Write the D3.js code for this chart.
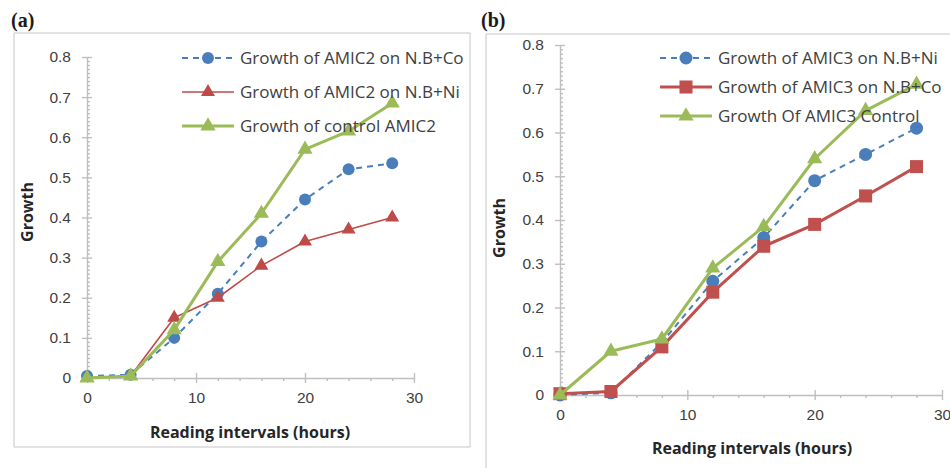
<!DOCTYPE html>
<html>
<head>
<meta charset="utf-8">
<script src="https://cdn.jsdelivr.net/npm/d3@7"></script>
<style>
  body { margin: 0; background: #fff; }
  svg { display: block; font-family: "Open Sans", "Noto Sans", sans-serif; }
  .axis path, .axis line { stroke: #bfbfbf; stroke-width: 1.4; }
  .axis text { fill: #404040; font-size: 15.5px; }
</style>
</head>
<body>
<svg id="chart" width="950" height="468"></svg>
<script>
// reading times (hours)
var hours = [0, 4, 8, 12, 16, 20, 24, 28];

// panel (a) AMIC2
var aCo = [0.005, 0.008, 0.1, 0.21, 0.34, 0.445, 0.52, 0.535];
var aNi = [0, 0.005, 0.15, 0.2, 0.28, 0.34, 0.37, 0.4];
var aControl = [0, 0.005, 0.12, 0.29, 0.41, 0.57, 0.615, 0.685];
var aLabels = ["Growth of AMIC2 on N.B+Co", "Growth of AMIC2 on N.B+Ni", "Growth of control AMIC2"];

// panel (b) AMIC3
var bNi = [0, 0.005, 0.12, 0.26, 0.36, 0.49, 0.55, 0.61];
var bCo = [0.003, 0.008, 0.11, 0.235, 0.34, 0.39, 0.455, 0.522];
var bControl = [0, 0.1, 0.128, 0.29, 0.385, 0.54, 0.65, 0.71];
var bLabels = ["Growth of AMIC3 on N.B+Ni", "Growth of AMIC3 on N.B+Co", "Growth Of AMIC3 Control"];

var xTicks = [0, 10, 20, 30];
var yTicks = [0, 0.1, 0.2, 0.3, 0.4, 0.5, 0.6, 0.7, 0.8];

var blue = "#4a7ebb", darkRed = "#be4b48", red = "#c0504d", green = "#9bbb59";

var svg = d3.select("#chart");

var panels = [
  {
    tag: "(a)", tagX: 11, frame: { x1: 14, y1: 33, x2: 470, y2: 447, right: true, bottom: true },
    x: [87, 414], y: [378, 57], titleX: 250, titleY: 438, yTitleX: 33, yTitleY: 212,
    legend: { x: 182, ys: [58, 92, 126] },
    series: [
      { name: aLabels[0], values: aCo, color: blue, width: 2, dash: "6,5", marker: "circle", size: 6 },
      { name: aLabels[1], values: aNi, color: darkRed, width: 1.6, dash: null, marker: "triangle", size: 85 },
      { name: aLabels[2], values: aControl, color: green, width: 3, dash: null, marker: "triangle", size: 100 },
    ],
  },
  {
    tag: "(b)", tagX: 481, frame: { x1: 486, y1: 34, x2: 960, y2: 480, right: false, bottom: false },
    x: [560, 942], y: [395, 45], titleX: 752, titleY: 454, yTitleX: 505, yTitleY: 228,
    legend: { x: 660, ys: [58, 87, 116] },
    series: [
      { name: bLabels[0], values: bNi, color: blue, width: 2, dash: "6,5", marker: "circle", size: 6.5 },
      { name: bLabels[1], values: bCo, color: red, width: 3, dash: null, marker: "square", size: 170 },
      { name: bLabels[2], values: bControl, color: green, width: 3, dash: null, marker: "triangle", size: 100 },
    ],
  },
];

var fmtY = (d) => (d === 0 ? "0" : d3.format(".1f")(d));

drawMarker = (g, s, cx, cy) => {
  if (s.marker == "circle") {
    g.append("circle").attr("cx", cx).attr("cy", cy).attr("r", s.size).attr("fill", s.color);
  } else {
    var type = s.marker == "square" ? d3.symbolSquare : d3.symbolTriangle;
    g.append("path")
      .attr("d", d3.symbol().type(type).size(s.size)())
      .attr("transform", `translate(${cx},${cy})`)
      .attr("fill", s.color);
  }
};

panels.forEach((p) => {
  var g = svg.append("g");

  // frame
  var f = p.frame;
  var frame = g.append("g").attr("stroke", "#d9d9d9").attr("stroke-width", 1.5);
  frame.append("line").attr("x1", f.x1).attr("x2", f.x2).attr("y1", f.y1).attr("y2", f.y1);
  frame.append("line").attr("x1", f.x1).attr("x2", f.x1).attr("y1", f.y1).attr("y2", f.y2);
  if (f.right) frame.append("line").attr("x1", f.x2).attr("x2", f.x2).attr("y1", f.y1).attr("y2", f.y2);
  if (f.bottom) frame.append("line").attr("x1", f.x1).attr("x2", f.x2).attr("y1", f.y2).attr("y2", f.y2);

  g.append("text")
    .attr("x", p.tagX).attr("y", 27)
    .style("font-family", "'Liberation Serif', serif")
    .style("font-weight", "bold").style("font-size", "20px")
    .attr("fill", "#1a1a1a")
    .text(p.tag);

  var x = d3.scaleLinear().domain([0, 30]).range(p.x);
  var y = d3.scaleLinear().domain([0, 0.8]).range(p.y);

  // y axis: minor and major ticks
  var minorY = d3.range(1, 80).map((d) => d / 100).filter((d) => Math.round(d * 100) % 10 != 0);
  g.append("g").attr("class", "axis").attr("transform", `translate(${p.x[0]},0)`)
    .call(d3.axisRight(y).tickValues(minorY).tickSize(3).tickFormat(""))
    .call((a) => a.select(".domain").remove());
  g.append("g").attr("class", "axis").attr("transform", `translate(${p.x[0]},0)`)
    .call(d3.axisRight(y).tickValues(yTicks).tickSize(5).tickFormat(""))
    .call((a) => a.select(".domain").remove());
  g.append("g").attr("class", "axis").attr("transform", `translate(${p.x[0]},0)`)
    .call(d3.axisLeft(y).tickValues(yTicks).tickSize(5).tickSizeOuter(0).tickPadding(11).tickFormat(fmtY));

  // x axis
  var minorX = d3.range(2, 30, 2).filter((d) => d % 10 != 0);
  g.append("g").attr("class", "axis").attr("transform", `translate(0,${p.y[0]})`)
    .call(d3.axisBottom(x).tickValues(minorX).tickSize(3).tickFormat(""))
    .call((a) => a.select(".domain").remove());
  g.append("g").attr("class", "axis").attr("transform", `translate(0,${p.y[0]})`)
    .call(d3.axisTop(x).tickValues(xTicks).tickSize(5).tickFormat(""))
    .call((a) => a.select(".domain").remove());
  g.append("g").attr("class", "axis").attr("transform", `translate(0,${p.y[0]})`)
    .call(d3.axisBottom(x).tickValues(xTicks).tickSize(5).tickSizeOuter(0).tickPadding(9));

  // axis titles
  g.append("text")
    .attr("x", p.titleX).attr("y", p.titleY)
    .attr("text-anchor", "middle")
    .style("font-weight", "bold").style("font-size", "16px")
    .attr("fill", "#262626")
    .text("Reading intervals (hours)");
  g.append("text")
    .attr("transform", `translate(${p.yTitleX},${p.yTitleY}) rotate(-90)`)
    .attr("text-anchor", "middle")
    .style("font-weight", "bold").style("font-size", "16px")
    .attr("fill", "#262626")
    .text("Growth");

  // series
  var line = d3.line().x((d) => x(d[0])).y((d) => y(d[1]));
  p.series.forEach((s) => {
    var pts = hours.map((h, i) => [h, s.values[i]]);
    g.append("path")
      .attr("d", line(pts))
      .attr("fill", "none")
      .attr("stroke", s.color)
      .attr("stroke-width", s.width)
      .attr("stroke-dasharray", s.dash)
      .attr("stroke-linejoin", "round");
    var mg = g.append("g");
    pts.forEach((d) => drawMarker(mg, s, x(d[0]), y(d[1])));
  });

  // legend
  var lg = g.append("g");
  p.series.forEach((s, i) => {
    var ly = p.legend.ys[i];
    lg.append("line")
      .attr("x1", p.legend.x).attr("x2", p.legend.x + 52)
      .attr("y1", ly).attr("y2", ly)
      .attr("stroke", s.color)
      .attr("stroke-width", s.width)
      .attr("stroke-dasharray", s.dash);
    drawMarker(lg, s, p.legend.x + 26, ly);
    lg.append("text")
      .attr("x", p.legend.x + 58).attr("y", ly)
      .attr("dy", "0.35em")
      .style("font-size", "17px")
      .attr("fill", "#404040")
      .text(s.name);
  });
});
</script>
</body>
</html>
